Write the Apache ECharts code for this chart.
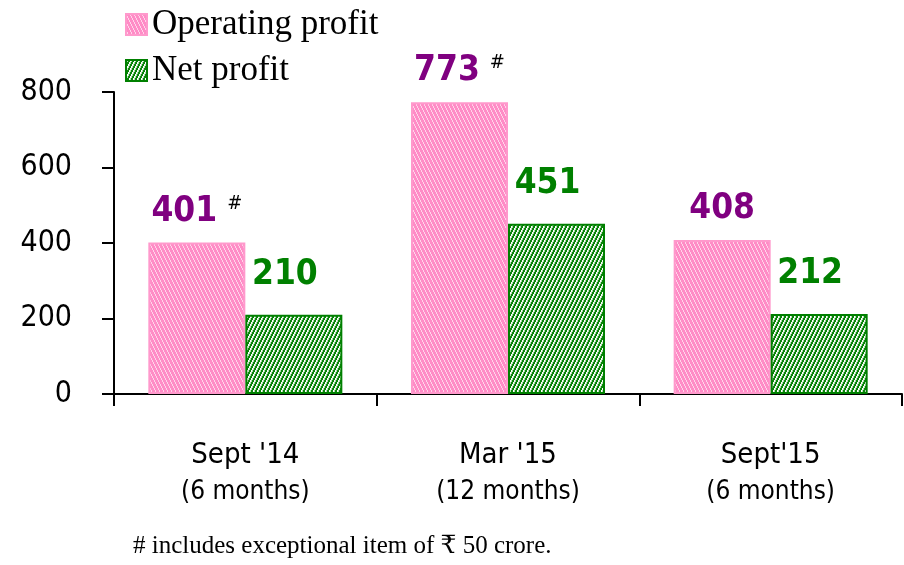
<!DOCTYPE html>
<html>
<head>
<meta charset="utf-8">
<title>Operating profit / Net profit</title>
<script src="https://cdn.jsdelivr.net/npm/echarts@6/dist/echarts.min.js"></script>
<style>
  html, body { margin: 0; padding: 0; background: #fff; }
  #chart { width: 904px; height: 565px; }
</style>
</head>
<body>
<div id="chart"></div>
<script>
// data
var periods = ["Sept '14", "Mar '15", "Sept'15"];
var spans = ['(6 months)', '(12 months)', '(6 months)'];
var operatingProfit = [401, 773, 408];
var netProfit = [210, 451, 212];
var opNotes = ['#', '#', ''];
var yTicks = [0, 200, 400, 600, 800];

var sans = "'DejaVu Sans Condensed', 'DejaVu Sans', sans-serif";
var serif = "'Liberation Serif', 'DejaVu Serif', serif";

// steep hatch tiles (4 wide, 8 high so the stripe repeats)
function stripes(base, light, mid, dir) {
    var c = document.createElement('canvas');
    c.width = 4; c.height = 8;
    var ctx = c.getContext('2d');
    ctx.fillStyle = base;
    ctx.fillRect(0, 0, 4, 8);
    for (var y = 0; y < 8; y++) {
        for (var x = 0; x < 4; x++) {
            var k = dir > 0 ? (x + Math.floor(y / 2)) % 4 : (x - Math.floor(y / 2) + 8) % 4;
            if (k === 0) { ctx.fillStyle = light; ctx.fillRect(x, y, 1, 1); }
            else if (k === 1 && mid) { ctx.fillStyle = mid; ctx.fillRect(x, y, 1, 1); }
        }
    }
    return { image: c, repeat: 'repeat' };
}

var pinkFill = stripes('#ff8cc6', '#ffd4ea', null, -1);
var greenFill = stripes('#0a850a', '#ffffff', '#b6dcb6', 1);

var chart = echarts.init(document.getElementById('chart'));

var option = {
    animation: false,
    backgroundColor: '#ffffff',
    legend: {
        orient: 'vertical',
        left: 120,
        top: 2,
        icon: 'rect',
        itemWidth: 21,
        itemHeight: 21,
        itemGap: 11,
        textStyle: { fontFamily: serif, fontSize: 35, color: '#000' },
        data: ['Operating profit', 'Net profit']
    },
    grid: { left: 114, right: 2, top: 92, bottom: 171, containLabel: false },
    xAxis: {
        type: 'category',
        data: periods,
        axisLine: { lineStyle: { color: '#000', width: 2 } },
        axisTick: { show: true, length: 12, lineStyle: { color: '#000', width: 2 } },
        axisLabel: {
            margin: 43,
            formatter: function (v, i) {
                return '{a|' + v + '}\n{b|' + spans[i] + '}';
            },
            rich: {
                a: { fontFamily: sans, fontSize: 29, lineHeight: 37, color: '#000' },
                b: { fontFamily: sans, fontSize: 26, lineHeight: 37, color: '#000' }
            }
        }
    },
    yAxis: {
        type: 'value',
        min: yTicks[0],
        max: yTicks[yTicks.length - 1],
        interval: yTicks[1] - yTicks[0],
        axisLine: { show: true, lineStyle: { color: '#000', width: 2 } },
        axisTick: { show: true, length: 12, lineStyle: { color: '#000', width: 2 } },
        splitLine: { show: false },
        axisLabel: { margin: 42, fontFamily: sans, fontSize: 30, color: '#000' }
    },
    series: [
        {
            name: 'Operating profit',
            type: 'bar',
            data: operatingProfit,
            barWidth: 97,
            barGap: '0%',
            itemStyle: { color: pinkFill, borderColor: '#ff99cc', borderWidth: 2 },
            label: {
                show: true,
                position: 'top',
                distance: 13,
                offset: [0, 0],
                formatter: function (p) {
                    var s = '{v|' + p.value + '}';
                    if (opNotes[p.dataIndex]) s += '{s|' + opNotes[p.dataIndex] + '}';
                    return s;
                },
                rich: {
                    v: { fontFamily: sans, fontSize: 35, fontWeight: 'bold', color: '#800080', lineHeight: 36 },
                    s: { fontFamily: sans, fontSize: 20, color: '#000', verticalAlign: 'top', lineHeight: 36, padding: [0, 0, 0, 10] }
                }
            }
        },
        {
            name: 'Net profit',
            type: 'bar',
            data: netProfit,
            barWidth: 97,
            itemStyle: { color: greenFill, borderColor: '#008000', borderWidth: 2 },
            label: {
                show: true,
                position: 'top',
                distance: 22,
                offset: [-9, 0],
                fontFamily: sans,
                fontSize: 35,
                fontWeight: 'bold',
                color: '#008000',
                lineHeight: 36
            }
        }
    ],
    graphic: [
        {
            type: 'text',
            left: 133,
            top: 534,
            style: {
                text: '# includes exceptional item of \u20B9 50 crore.',
                fontFamily: serif,
                fontSize: 25,
                fill: '#000'
            }
        }
    ]
};

chart.setOption(option);
</script>
</body>
</html>
